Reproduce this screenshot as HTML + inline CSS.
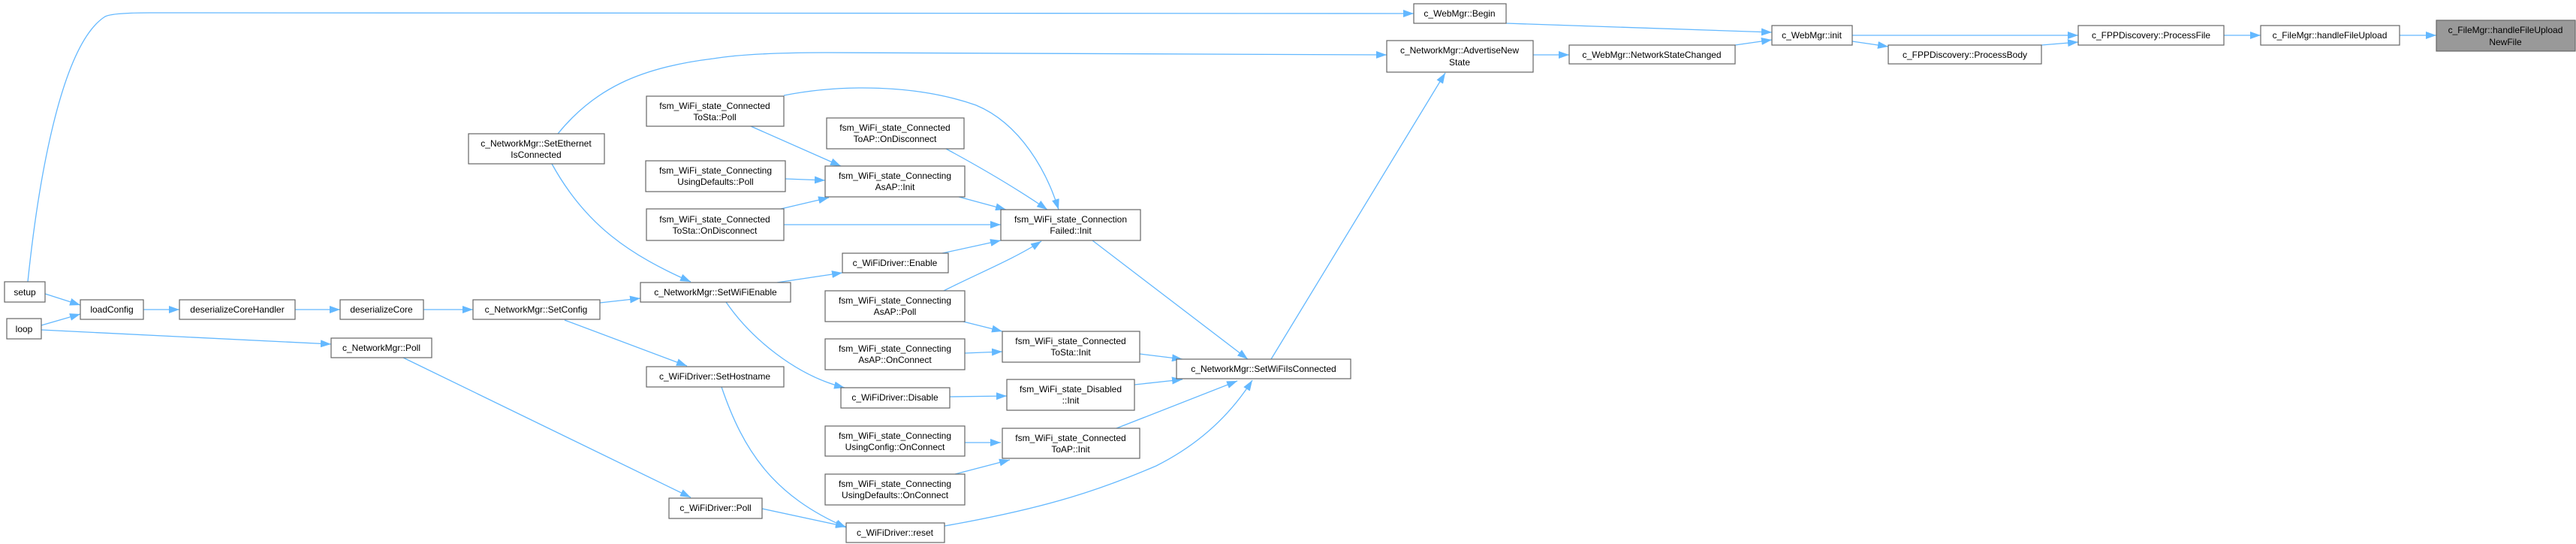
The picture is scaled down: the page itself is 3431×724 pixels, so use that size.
<!DOCTYPE html>
<html><head><meta charset="utf-8"><style>
html,body{margin:0;padding:0;background:#fff;}
svg{display:block;}
text{font-family:"Liberation Sans",sans-serif;font-size:12px;fill:#000;}
.n{fill:#fff;stroke:#666;stroke-width:1.2;}
.g{fill:#999;stroke:#666;stroke-width:1.2;}
.e{fill:none;stroke:#63b8ff;stroke-width:1.3;}
</style></head><body>
<svg width="3431" height="724" viewBox="0 0 3431 724" xmlns="http://www.w3.org/2000/svg">
<defs><marker id="a" markerWidth="14" markerHeight="10" refX="14" refY="5" orient="auto" markerUnits="userSpaceOnUse"><path d="M0,0 L14,5 L0,10 z" fill="#63b8ff"/></marker></defs>
<g class="e" marker-end="url(#a)">
<path d="M60,391 L107,406"/>
<path d="M55,433 L107,418"/>
<path d="M55,439 L441,458"/>
<path d="M37,375 C50,250 80,60 140,22 Q150,17 200,17 L1883,18"/>
<path d="M191,412 L239,412"/>
<path d="M393,412 L453,412"/>
<path d="M564,412 L630,412"/>
<path d="M799,403 L853,397"/>
<path d="M752,426 L915,487"/>
<path d="M537,476 L920,662"/>
<path d="M735,218 C780,300 840,340 920,375"/>
<path d="M743,178 C790,120 850,90 950,78 Q1000,70 1100,70 L1847,73"/>
<path d="M1035,376 L1122,363"/>
<path d="M967,402 C1000,450 1060,500 1125,516"/>
<path d="M1255,337 L1333,320"/>
<path d="M1000,168 L1120,221"/>
<path d="M1044,127 C1120,112 1220,112 1300,140 C1360,165 1395,230 1410,279"/>
<path d="M1260,198 C1310,225 1360,255 1395,279"/>
<path d="M1046,238 L1099,240"/>
<path d="M1040,278 L1104,263"/>
<path d="M1044,299 L1333,299"/>
<path d="M1277,262 L1340,279"/>
<path d="M1257,387 C1300,365 1350,345 1387,321"/>
<path d="M1283,428 L1335,441"/>
<path d="M1285,470 L1335,468"/>
<path d="M1265,528 L1341,527"/>
<path d="M1285,589 L1333,589"/>
<path d="M1272,631 L1345,612"/>
<path d="M1455,320 L1662,478"/>
<path d="M1518,471 L1575,478"/>
<path d="M1511,512 L1575,505"/>
<path d="M1487,570 L1648,507"/>
<path d="M1258,700 C1400,675 1470,650 1540,620 C1600,590 1640,550 1668,506"/>
<path d="M1693,478 L1925,97"/>
<path d="M961,515 C990,600 1030,660 1127,702"/>
<path d="M1015,677 L1127,701"/>
<path d="M2006,31 L2360,43"/>
<path d="M2042,73 L2090,73"/>
<path d="M2311,60 L2360,53"/>
<path d="M2467,47 L2768,47"/>
<path d="M2467,55 L2515,62"/>
<path d="M2719,60 L2768,56"/>
<path d="M2962,47 L3011,47"/>
<path d="M3196,47 L3245,47"/>
</g>
<g text-anchor="middle">
<rect class="n" x="6" y="375" width="54" height="27"/><text x="33" y="393">setup</text>
<rect class="n" x="9" y="424" width="46" height="27"/><text x="32" y="442">loop</text>
<rect class="n" x="107" y="399" width="84" height="26"/><text x="149" y="416">loadConfig</text>
<rect class="n" x="239" y="399" width="154" height="26"/><text x="316" y="416">deserializeCoreHandler</text>
<rect class="n" x="453" y="399" width="111" height="26"/><text x="508" y="416">deserializeCore</text>
<rect class="n" x="630" y="399" width="169" height="26"/><text x="714" y="416">c_NetworkMgr::SetConfig</text>
<rect class="n" x="441" y="450" width="134" height="26"/><text x="508" y="467">c_NetworkMgr::Poll</text>
<rect class="n" x="624" y="178" width="181" height="40"/><text x="714" y="195">c_NetworkMgr::SetEthernet</text><text x="714" y="210">IsConnected</text>
<rect class="n" x="853" y="376" width="200" height="26"/><text x="953" y="393">c_NetworkMgr::SetWiFiEnable</text>
<rect class="n" x="861" y="488" width="183" height="27"/><text x="952" y="505">c_WiFiDriver::SetHostname</text>
<rect class="n" x="891" y="663" width="124" height="27"/><text x="953" y="680">c_WiFiDriver::Poll</text>
<rect class="n" x="861" y="128" width="183" height="40"/><text x="952" y="145">fsm_WiFi_state_Connected</text><text x="952" y="160">ToSta::Poll</text>
<rect class="n" x="860" y="214" width="186" height="41"/><text x="953" y="231">fsm_WiFi_state_Connecting</text><text x="953" y="246">UsingDefaults::Poll</text>
<rect class="n" x="861" y="278" width="183" height="42"/><text x="952" y="296">fsm_WiFi_state_Connected</text><text x="952" y="311">ToSta::OnDisconnect</text>
<rect class="n" x="1101" y="157" width="183" height="41"/><text x="1192" y="174">fsm_WiFi_state_Connected</text><text x="1192" y="189">ToAP::OnDisconnect</text>
<rect class="n" x="1099" y="221" width="186" height="41"/><text x="1192" y="238">fsm_WiFi_state_Connecting</text><text x="1192" y="253">AsAP::Init</text>
<rect class="n" x="1333" y="279" width="186" height="41"/><text x="1426" y="296">fsm_WiFi_state_Connection</text><text x="1426" y="311">Failed::Init</text>
<rect class="n" x="1122" y="337" width="141" height="26"/><text x="1192" y="354">c_WiFiDriver::Enable</text>
<rect class="n" x="1099" y="387" width="186" height="41"/><text x="1192" y="404">fsm_WiFi_state_Connecting</text><text x="1192" y="419">AsAP::Poll</text>
<rect class="n" x="1335" y="441" width="183" height="41"/><text x="1426" y="458">fsm_WiFi_state_Connected</text><text x="1426" y="473">ToSta::Init</text>
<rect class="n" x="1099" y="451" width="186" height="41"/><text x="1192" y="468">fsm_WiFi_state_Connecting</text><text x="1192" y="483">AsAP::OnConnect</text>
<rect class="n" x="1567" y="478" width="232" height="26"/><text x="1683" y="495">c_NetworkMgr::SetWiFiIsConnected</text>
<rect class="n" x="1120" y="516" width="145" height="27"/><text x="1192" y="533">c_WiFiDriver::Disable</text>
<rect class="n" x="1341" y="505" width="170" height="41"/><text x="1426" y="522">fsm_WiFi_state_Disabled</text><text x="1426" y="537">::Init</text>
<rect class="n" x="1099" y="567" width="186" height="40"/><text x="1192" y="584">fsm_WiFi_state_Connecting</text><text x="1192" y="599">UsingConfig::OnConnect</text>
<rect class="n" x="1335" y="570" width="183" height="40"/><text x="1426" y="587">fsm_WiFi_state_Connected</text><text x="1426" y="602">ToAP::Init</text>
<rect class="n" x="1099" y="631" width="186" height="41"/><text x="1192" y="648">fsm_WiFi_state_Connecting</text><text x="1192" y="663">UsingDefaults::OnConnect</text>
<rect class="n" x="1127" y="696" width="131" height="26"/><text x="1192" y="713">c_WiFiDriver::reset</text>
<rect class="n" x="1883" y="5" width="123" height="26"/><text x="1944" y="22">c_WebMgr::Begin</text>
<rect class="n" x="1847" y="54" width="195" height="42"/><text x="1944" y="71">c_NetworkMgr::AdvertiseNew</text><text x="1944" y="87">State</text>
<rect class="n" x="2090" y="60" width="221" height="25"/><text x="2200" y="77">c_WebMgr::NetworkStateChanged</text>
<rect class="n" x="2360" y="34" width="107" height="26"/><text x="2413" y="51">c_WebMgr::init</text>
<rect class="n" x="2515" y="60" width="204" height="25"/><text x="2617" y="77">c_FPPDiscovery::ProcessBody</text>
<rect class="n" x="2768" y="34" width="194" height="26"/><text x="2865" y="51">c_FPPDiscovery::ProcessFile</text>
<rect class="n" x="3011" y="34" width="185" height="26"/><text x="3103" y="51">c_FileMgr::handleFileUpload</text>
<rect class="g" x="3245" y="27" width="185" height="41"/><text x="3337" y="44">c_FileMgr::handleFileUpload</text><text x="3337" y="60">NewFile</text>
</g>
</svg>
</body></html>
